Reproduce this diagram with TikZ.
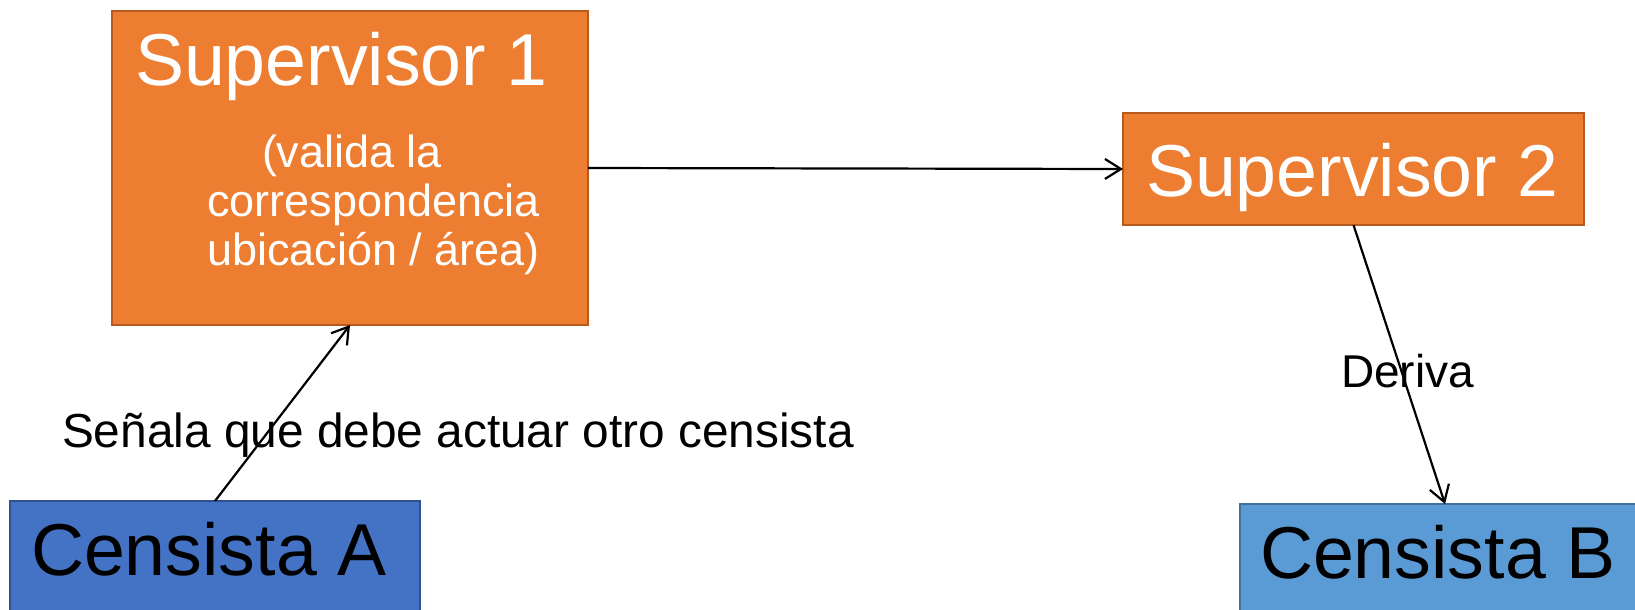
\documentclass[tikz,border=0pt]{standalone}
\usepackage{fontspec}
\setmainfont{Liberation Sans}
\usetikzlibrary{arrows.meta}
\definecolor{orfill}{HTML}{ED7D31}
\definecolor{ordraw}{HTML}{B85A1E}
\definecolor{afill}{HTML}{4472C4}
\definecolor{adraw}{HTML}{2F528F}
\definecolor{bfill}{HTML}{5B9BD5}
\definecolor{bdraw}{HTML}{41719C}
\tikzset{
  box/.style={draw, line width=2pt, inner sep=0pt, outer sep=0pt, anchor=north west},
  orbox/.style={box, fill=orfill, draw=ordraw},
  abox/.style={box, fill=afill, draw=adraw},
  bbox/.style={box, fill=bfill, draw=bdraw},
  txt/.style={anchor=base west, inner sep=0pt, outer sep=0pt},
  conn/.style={line width=2.2pt, -{Straight Barb[length=16pt,width=20pt,line width=2.2pt]}},
  big/.style={font=\fontsize{73.5}{80}\selectfont},
  mid/.style={font=\fontsize{45}{49}\selectfont},
  lab/.style={font=\fontsize{47.8}{52}\selectfont},
  labs/.style={font=\fontsize{46}{50}\selectfont}
}
\begin{document}
\begin{tikzpicture}[x=1pt,y=-1pt]
\useasboundingbox (0,0) rectangle (1635,610);
\clip (0,0) rectangle (1635,610);
% boxes
\node[orbox, minimum width=476pt, minimum height=314pt] (s1) at (112,11) {};
\node[orbox, minimum width=461pt, minimum height=112pt] (s2) at (1123,113) {};
\node[abox, minimum width=410pt, minimum height=140pt] (ca) at (10,501) {};
\node[bbox, minimum width=410pt, minimum height=140pt] (cb) at (1240,504) {};
% texts
\node[txt, big, text=white] (s1t) at (135,85) {Supervisor 1};
\node[txt, mid, text=white] (s1a) at (262,167) {(valida la};
\node[txt, mid, text=white] (s1b) at (207,216) {correspondencia};
\node[txt, mid, text=white] (s1c) at (207,265) {ubicación / área)};
\node[txt, big, text=white] (s2t) at (1146,196) {Supervisor 2};
\node[txt, big] (cat) at (31,575) {Censista A};
\node[txt, big] (cbt) at (1260,578) {Censista B};
% connectors
\draw[conn] (s1.east) -- (s2.west);
\draw[conn] (ca.north) -- (s1.south);
\draw[conn] (s2.south) -- (cb.north);
% labels
\node[txt, lab] (l1) at (62,447) {Señala que debe actuar otro censista};
\node[txt, labs] (l2) at (1341,387) {Deriva};
\end{tikzpicture}
\end{document}
